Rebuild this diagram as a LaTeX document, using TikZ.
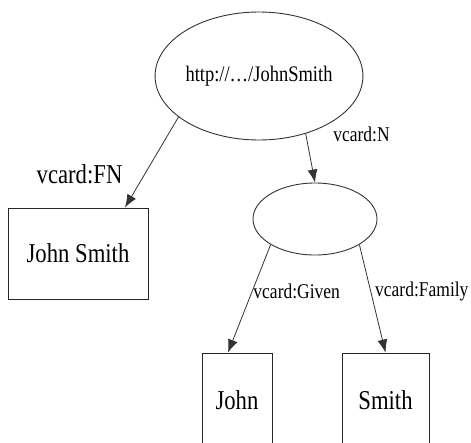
\documentclass[tikz,border=0pt]{standalone}
\usepackage{graphicx}
\usepackage{fontspec}
\setmainfont{Liberation Serif}
\usepackage{tikz}
\usetikzlibrary{calc, arrows.meta, shapes.geometric}
\tikzset{
res/.style={ellipse, draw=black!80, line width=0.9pt, inner sep=0pt},
lit/.style={rectangle, draw=black!85, line width=0.9pt, inner sep=0pt},
prop/.style={font=\fontsize{17.5}{19}\selectfont, text=black, inner sep=0pt}
}
\newcommand{\tallbox}[1]{\scalebox{1}[1.2]{#1}}

\begin{document}
\begin{tikzpicture}[x=1pt, y=-1pt]
\useasboundingbox (0,0) rectangle (471,442);
\clip (0,0) rectangle (471,442);
\node[res, minimum width=168pt, minimum height=128pt, font=\fontsize{18.5}{20}\selectfont] (uri) at (259,76) {\tallbox{http://\ldots/JohnSmith}};
\node[lit, minimum width=140pt, minimum height=91pt, font=\fontsize{22.7}{25}\selectfont] (fn) at (78,253.5) {\tallbox{John Smith}};
\node[res, minimum width=124pt, minimum height=72pt] (blank) at (315,219) {};
\node[lit, minimum width=70pt, minimum height=94pt, font=\fontsize{22.7}{25}\selectfont] (given) at (237,400) {\tallbox{John}};
\node[lit, minimum width=87pt, minimum height=94pt, font=\fontsize{22.7}{25}\selectfont] (family) at (385.5,400) {\tallbox{Smith}};
\path[-{Latex[length=13pt,width=10pt]}, black!80, line width=0.8pt]
(uri.207)
edge node[pos=0.63, anchor=east, xshift=-22pt, prop, font=\fontsize{22.7}{25}\selectfont] {\tallbox{vcard:FN}} ($(fn.north)+(47,0)$)
(uri.309)
edge node[pos=0.02, anchor=west, xshift=27pt, prop] {\tallbox{vcard:N}} (blank.north)
(blank.210)
edge node[pos=0.435, anchor=west, xshift=1pt, prop] {\tallbox{vcard:Given}} ($(given.north)+(-9,0)$)
(blank.330)
edge node[pos=0.435, anchor=west, xshift=4pt, prop] {\tallbox{vcard:Family}} (family.north)
;
\end{tikzpicture}
\end{document}
